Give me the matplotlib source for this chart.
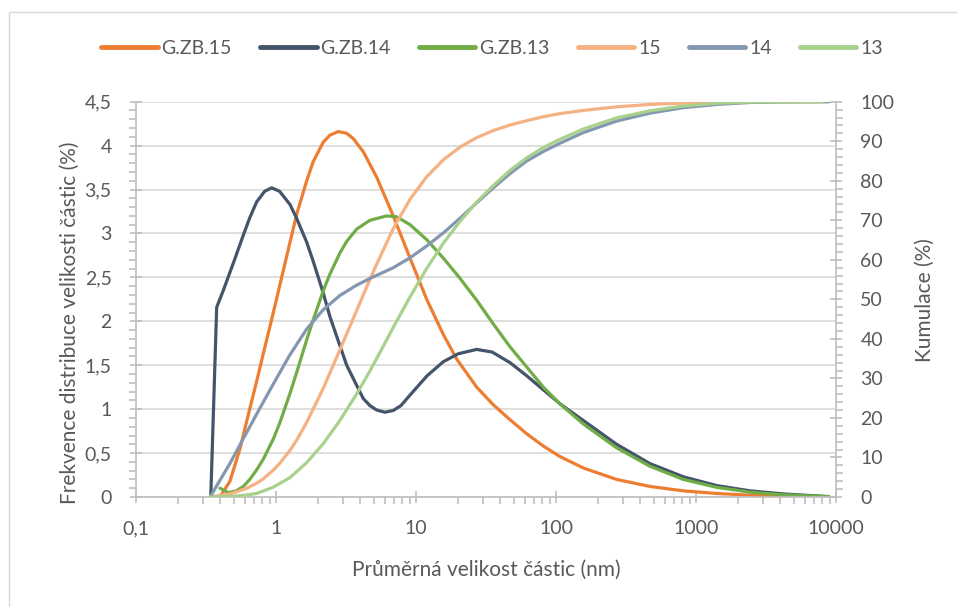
import matplotlib
matplotlib.use('Agg')
import matplotlib.pyplot as plt
from matplotlib.ticker import FixedLocator, MultipleLocator, LogLocator, FuncFormatter, NullFormatter
from matplotlib.patches import Rectangle

plt.rcParams['font.family'] = ['Lato', 'DejaVu Sans']

# frekvence (%) - leva osa
zb15_x = [0.398, 0.469, 0.553, 0.617, 0.728, 0.811, 0.957, 1.068, 1.259, 1.406, 1.657, 1.847,
          2.177, 2.431, 2.786, 3.199, 3.565, 4.204, 5.24, 6.88, 9.06, 11.92, 15.67, 19.53,
          27.14, 35.65, 46.92, 61.76, 81.2, 106.8, 157, 271, 469, 812, 1406, 2431, 4204, 8900]
zb15_y = [0, 0.18, 0.55, 0.86, 1.32, 1.63, 2.1, 2.42, 2.9, 3.22, 3.6, 3.82,
          4.04, 4.12, 4.16, 4.14, 4.08, 3.93, 3.64, 3.2, 2.72, 2.25, 1.85, 1.57,
          1.25, 1.05, 0.88, 0.72, 0.58, 0.46, 0.33, 0.2, 0.12, 0.07, 0.04, 0.02, 0.01, 0.003]

zb14_x = [0.342, 0.377, 0.42, 0.495, 0.584, 0.65, 0.728, 0.83, 0.932, 1.06, 1.259, 1.406,
          1.657, 1.847, 2.177, 2.431, 2.865, 3.199, 3.771, 4.204, 4.692, 5.24, 6.0, 6.88,
          7.8, 9.06, 12.0, 15.67, 20.0, 27.1, 35.0, 46.9, 61.8, 81.2, 107, 157, 271, 469,
          812, 1406, 2431, 4204, 8900]
zb14_y = [0, 2.16, 2.35, 2.66, 2.98, 3.18, 3.36, 3.48, 3.52, 3.48, 3.33, 3.17,
          2.9, 2.68, 2.32, 2.05, 1.72, 1.5, 1.27, 1.12, 1.04, 0.99, 0.965, 0.985,
          1.04, 1.16, 1.38, 1.54, 1.63, 1.68, 1.65, 1.53, 1.38, 1.22, 1.06, 0.87, 0.6, 0.38,
          0.23, 0.13, 0.07, 0.035, 0.004]

zb13_x = [0.398, 0.456, 0.52, 0.584, 0.65, 0.728, 0.811, 0.957, 1.068, 1.259, 1.406, 1.657,
          1.847, 2.177, 2.431, 2.865, 3.199, 3.771, 4.692, 6.17, 7.28, 9.06, 11.92, 15.67,
          20.6, 27.14, 35.65, 46.92, 61.76, 81.2, 106.8, 157, 271, 469, 812, 1406, 2431, 4204, 8900]
zb13_y = [0.10, 0.05, 0.07, 0.12, 0.2, 0.31, 0.43, 0.66, 0.85, 1.18, 1.42, 1.79,
          2.02, 2.35, 2.54, 2.78, 2.91, 3.05, 3.15, 3.2, 3.19, 3.1, 2.93, 2.72,
          2.49, 2.24, 1.97, 1.71, 1.48, 1.25, 1.06, 0.83, 0.56, 0.35, 0.2, 0.11, 0.055, 0.025, 0.005]

# kumulace (%) - prava osa
k15_x = [0.338, 0.47, 0.617, 0.728, 0.811, 0.957, 1.068, 1.259, 1.406, 1.657, 2.177, 2.865,
         3.771, 4.692, 5.24, 6.88, 9.06, 11.92, 15.67, 20.6, 27.1, 35.65, 46.9, 61.8, 81.2,
         107, 157, 271, 469, 812, 1406, 2431, 8900]
k15_y = [0, 0.8, 2.2, 3.5, 4.6, 6.8, 8.6, 11.8, 14.4, 18.9, 27.5, 37.3,
         47.2, 55.1, 58.9, 67.9, 75.3, 81, 85.3, 88.5, 90.9, 92.7, 94.1, 95.2, 96.2,
         97.0, 97.8, 98.7, 99.3, 99.65, 99.85, 99.95, 100]

k14_x = [0.338, 0.469, 0.553, 0.728, 0.957, 1.259, 1.657, 2.177, 2.865, 3.771, 4.692, 6.88,
         9.06, 11.92, 15.67, 20.6, 27.14, 35.65, 46.92, 61.76, 81.2, 106.8, 157, 271, 469,
         812, 1406, 2431, 4204, 8900]
k14_y = [0, 8.5, 13.2, 21, 28.6, 36, 42.5, 47.4, 51, 53.6, 55.3, 58,
         60.5, 63.5, 66.8, 70.5, 74.4, 78.2, 81.8, 85, 87.4, 89.5, 92.2, 95.1, 97.1,
         98.5, 99.3, 99.8, 99.95, 100]

k13_x = [0.338, 0.5, 0.617, 0.728, 0.957, 1.259, 1.657, 2.177, 2.865, 3.771, 4.692, 5.533,
         6.88, 9.06, 11.92, 15.67, 20.6, 27.14, 35.65, 46.92, 61.76, 81.2, 106.8, 157, 271,
         469, 812, 1406, 2431, 4204, 7900]
k13_y = [0, 0.2, 0.5, 0.9, 2.5, 4.9, 8.7, 13.5, 19.4, 26.1, 31.9, 36.6,
         42.9, 50.6, 57.8, 64.2, 69.7, 74.6, 78.8, 82.6, 85.8, 88.4, 90.5, 93.1, 95.9,
         97.7, 98.9, 99.6, 99.9, 99.97, 100]

c_text = '#595959'
c_axis = '#bfbfbf'
c_grid = '#d9d9d9'
fs = 14

fig = plt.figure(figsize=(9.57, 6.07), dpi=100)
fig.patches.append(Rectangle((9/957, -0.1), 1.1, 1 - 12/607 + 0.1, transform=fig.transFigure,
                             fill=False, ec=c_grid, lw=1))

ax = fig.add_axes([136/957, 1 - 497/607, 700/957, 395.3/607])
ax2 = ax.twinx()

lw = 2.3
h1, = ax.plot(zb15_x, zb15_y, color='#ED7D31', lw=lw, label='G.ZB.15', solid_capstyle='round')
h2, = ax.plot(zb14_x, zb14_y, color='#44546A', lw=lw, label='G.ZB.14', solid_capstyle='round')
h3, = ax.plot(zb13_x, zb13_y, color='#70AD47', lw=lw, label='G.ZB.13', solid_capstyle='round')
h4, = ax2.plot(k15_x, k15_y, color='#F4B183', lw=lw, label='15', solid_capstyle='round')
h5, = ax2.plot(k14_x, k14_y, color='#8497B0', lw=lw, label='14', solid_capstyle='round')
h6, = ax2.plot(k13_x, k13_y, color='#A9D18E', lw=lw, label='13', solid_capstyle='round')

ax.set_xscale('log')
ax.set_xlim(0.1, 10000)
ax.set_ylim(0, 4.5)
ax2.set_ylim(0, 100)

comma = FuncFormatter(lambda v, p: ('%g' % v).replace('.', ','))
ax.xaxis.set_major_locator(FixedLocator([0.1, 1, 10, 100, 1000, 10000]))
ax.xaxis.set_minor_locator(LogLocator(base=10, subs=range(2, 10), numticks=20))
ax.xaxis.set_major_formatter(comma)
ax.xaxis.set_minor_formatter(NullFormatter())
ax.yaxis.set_major_locator(MultipleLocator(0.5))
ax.yaxis.set_minor_locator(MultipleLocator(0.1))
ax.yaxis.set_major_formatter(comma)
ax2.yaxis.set_major_locator(MultipleLocator(10))
ax2.yaxis.set_minor_locator(MultipleLocator(2))

ax.yaxis.grid(True, color=c_grid, lw=1.2)
ax.set_axisbelow(True)

for a in (ax, ax2):
    for s in a.spines.values():
        s.set_visible(False)
ax.spines['bottom'].set_visible(True)
ax.spines['left'].set_visible(True)
ax2.spines['right'].set_visible(True)
for s in (ax.spines['bottom'], ax.spines['left'], ax2.spines['right']):
    s.set_color(c_axis)
    s.set_linewidth(1.2)

ax.tick_params(axis='x', which='major', direction='inout', length=9, width=1.2, color=c_axis,
               labelsize=fs, labelcolor=c_text, pad=12)
ax.tick_params(axis='x', which='minor', direction='out', length=5, width=1.2, color=c_axis)
ax.tick_params(axis='y', which='major', direction='inout', length=9, width=1.2, color=c_axis,
               labelsize=fs, labelcolor=c_text, pad=13)
ax.tick_params(axis='y', which='minor', direction='out', length=5, width=1.2, color=c_axis)
ax2.tick_params(axis='y', which='major', direction='inout', length=9, width=1.2, color=c_axis,
                labelsize=fs, labelcolor=c_text, pad=13)
ax2.tick_params(axis='y', which='minor', direction='out', length=5, width=1.2, color=c_axis)

fig.text(486/957, 1 - 570/607, 'Průměrná velikost částic (nm)', ha='center', va='center',
         fontsize=15, color=c_text)
fig.text(70/957, 1 - 323/607, 'Frekvence distribuce velikosti částic (%)', ha='center',
         va='center', rotation=90, fontsize=15, color=c_text)
fig.text(925/957, 1 - 300/607, 'Kumulace (%)', ha='center', va='center', rotation=90,
         fontsize=15, color=c_text)

leg = fig.legend(handles=[h1, h2, h3, h4, h5, h6], loc='center', ncol=6,
                 bbox_to_anchor=(492/957, 1 - 48/607), frameon=False, fontsize=fs,
                 handlelength=2.9, handletextpad=0.2, columnspacing=1.45)
for t in leg.get_texts():
    t.set_color(c_text)
for l in leg.get_lines():
    l.set_linewidth(3.5)

fig.savefig('out.png', dpi=100)
